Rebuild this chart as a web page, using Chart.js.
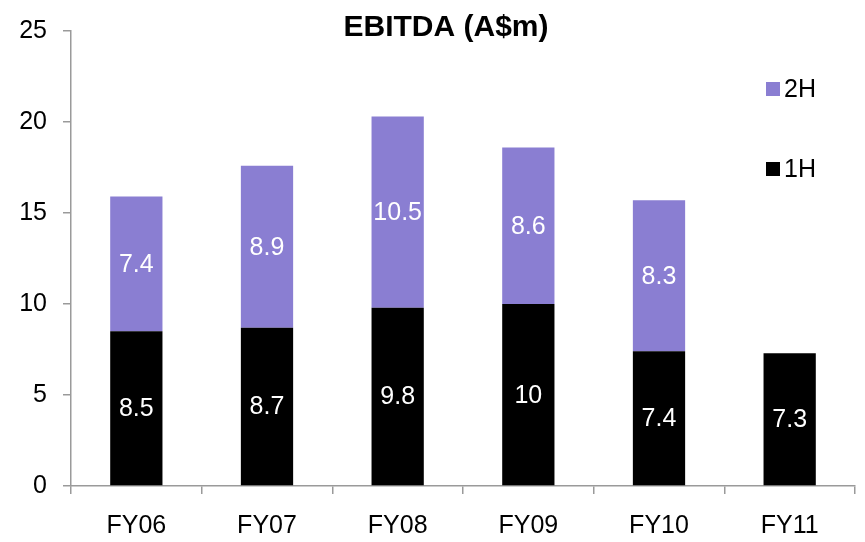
<!DOCTYPE html>
<html>
<head>
<meta charset="utf-8">
<script src="https://cdn.jsdelivr.net/npm/chart.js@4/dist/chart.umd.min.js"></script>
<style>
  html, body { margin: 0; padding: 0; background: #ffffff; }
  canvas { display: block; }
</style>
</head>
<body>
<canvas id="chart" width="865" height="542"></canvas>
<script>
// EBITDA by half-year, A$ millions
const categories = ['FY06', 'FY07', 'FY08', 'FY09', 'FY10', 'FY11'];
const firstHalf = [8.5, 8.7, 9.8, 10, 7.4, 7.3];
const secondHalf = [7.4, 8.9, 10.5, 8.6, 8.3, null];
const yTicks = [0, 5, 10, 15, 20, 25];

const FONT = "'Liberation Sans', Arial, sans-serif";
const PURPLE = '#8A7ED2';
const AXIS = '#9a9a9a';

// Title drawn above the plot
const titlePlugin = {
  id: 'titleText',
  afterDraw(chart) {
    const ctx = chart.ctx;
    ctx.save();
    ctx.fillStyle = '#000';
    ctx.font = 'bold 30px ' + FONT;
    ctx.textAlign = 'center';
    ctx.textBaseline = 'middle';
    ctx.fillText('EBITDA (A$m)', 446, 28);
    ctx.restore();
  }
};

// Legend inside the plot, top right: 2H above 1H
const legendPlugin = {
  id: 'sideLegend',
  afterDraw(chart) {
    const ctx = chart.ctx;
    const items = [
      { label: '2H', color: PURPLE, y: 89 },
      { label: '1H', color: '#000000', y: 169 }
    ];
    ctx.save();
    ctx.font = '25px ' + FONT;
    ctx.textAlign = 'left';
    ctx.textBaseline = 'middle';
    items.forEach(it => {
      ctx.fillStyle = it.color;
      ctx.fillRect(766, it.y - 7, 14, 14);
      ctx.fillStyle = '#000';
      ctx.fillText(it.label, 784, it.y + 1);
    });
    ctx.restore();
  }
};

// White value labels centred in each bar segment
const valueLabels = {
  id: 'valueLabels',
  afterDatasetsDraw(chart) {
    const ctx = chart.ctx;
    ctx.save();
    ctx.font = '25px ' + FONT;
    ctx.fillStyle = '#ffffff';
    ctx.textAlign = 'center';
    ctx.textBaseline = 'middle';
    chart.data.datasets.forEach((ds, i) => {
      const meta = chart.getDatasetMeta(i);
      meta.data.forEach((bar, j) => {
        const v = ds.data[j];
        if (v === null || v === undefined) return;
        const p = bar.getProps(['x', 'y', 'base'], true);
        ctx.fillText(String(v), p.x, (p.y + p.base) / 2 + 1);
      });
    });
    ctx.restore();
  }
};

new Chart(document.getElementById('chart'), {
  type: 'bar',
  data: {
    labels: categories,
    datasets: [
      { label: '1H', data: firstHalf, backgroundColor: '#000000',
        categoryPercentage: 1.0, barPercentage: 0.4 },
      { label: '2H', data: secondHalf, backgroundColor: PURPLE,
        categoryPercentage: 1.0, barPercentage: 0.4 }
    ]
  },
  options: {
    responsive: false,
    animation: false,
    devicePixelRatio: 1,
    layout: { padding: { top: 30, right: 10, left: 0, bottom: 0 } },
    plugins: {
      legend: { display: false },
      title: { display: false },
      tooltip: { enabled: false }
    },
    scales: {
      x: {
        stacked: true,
        afterFit(scale) { scale.height = 56; },
        border: { color: AXIS, width: 1.5 },
        grid: { offset: true, drawOnChartArea: false, drawTicks: true,
                tickLength: 8, color: AXIS, lineWidth: 1.5 },
        ticks: { color: '#000', font: { family: FONT, size: 25 }, padding: 17,
                 maxRotation: 0 }
      },
      y: {
        stacked: true,
        min: 0,
        max: 25,
        afterFit(scale) { scale.width = 71; },
        afterBuildTicks(scale) { scale.ticks = yTicks.map(v => ({ value: v })); },
        border: { color: AXIS, width: 1.5 },
        grid: { drawOnChartArea: false, drawTicks: true, tickLength: 8,
                color: AXIS, lineWidth: 1.5 },
        ticks: { color: '#000', font: { family: FONT, size: 25 }, padding: 16 }
      }
    }
  },
  plugins: [titlePlugin, legendPlugin, valueLabels]
});
</script>
</body>
</html>
